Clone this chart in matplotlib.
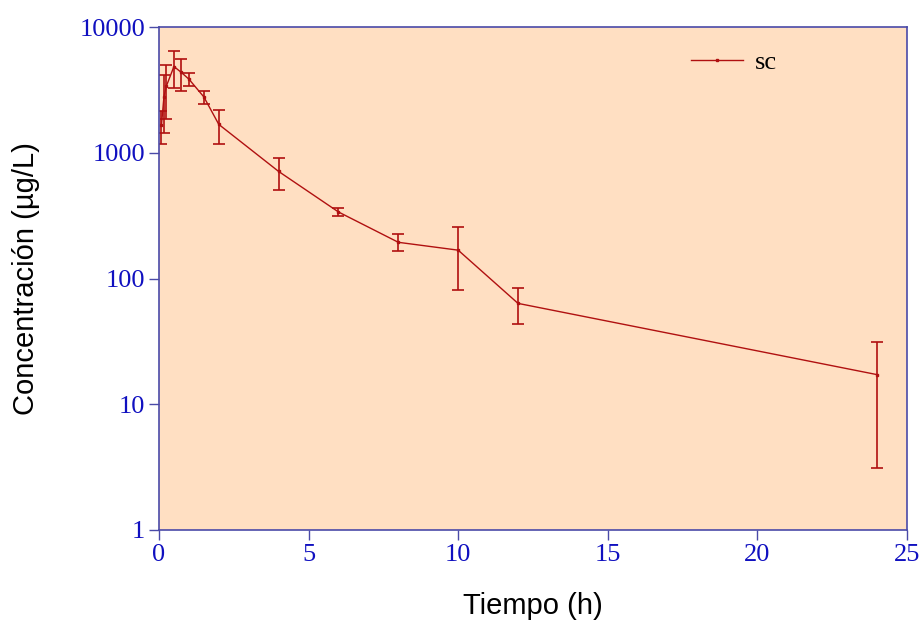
import matplotlib
matplotlib.use("Agg")
import matplotlib.pyplot as plt
from matplotlib.lines import Line2D
from matplotlib.ticker import FixedLocator, FixedFormatter, NullLocator

# Mean plasma concentration after subcutaneous dosing (mean ± SD)
tiempo = [0.083, 0.167, 0.25, 0.5, 0.75, 1, 1.5, 2, 4, 6, 8, 10, 12, 24]
conc = [1650, 2800, 3400, 4850, 4350, 3850, 2780, 1680, 710, 338, 194, 168, 63.4, 17.2]
sd = [480, 1370, 1550, 1550, 1250, 480, 320, 500, 205, 23, 30, 87, 20, 14.1]

x_ticks = [0, 5, 10, 15, 20, 25]
y_ticks = [1, 10, 100, 1000, 10000]
y_labels = ["1", "10", "100", "1000", "10000"]

line_color = "#B01010"
axis_color = "#4A4AA8"
tick_color = "#1010C0"
bg_color = "#FFDFC2"

fig = plt.figure(figsize=(9.21, 6.25), dpi=100)
ax = fig.add_axes([0.1726, 0.152, 0.8122, 0.8048])
ax.set_facecolor(bg_color)

ax.errorbar(tiempo, conc, yerr=sd, color=line_color, lw=1.0, elinewidth=1.2,
            capsize=4, capthick=1.2, marker="s", ms=2.0)

ax.set_yscale("log")
ax.set_xlim(0, 25)
ax.set_ylim(1, 10000)
ax.xaxis.set_major_locator(FixedLocator(x_ticks))
ax.yaxis.set_major_locator(FixedLocator(y_ticks))
ax.yaxis.set_major_formatter(FixedFormatter(y_labels))
ax.yaxis.set_minor_locator(NullLocator())
ax.xaxis.set_minor_locator(NullLocator())

for s in ax.spines.values():
    s.set_color(axis_color)
    s.set_linewidth(1.2)

ax.tick_params(axis="both", which="major", direction="out", length=7,
               width=1.0, color=axis_color, labelcolor=tick_color,
               labelsize=19, pad=3)
for lab in ax.get_xticklabels() + ax.get_yticklabels():
    lab.set_family(["Liberation Serif", "DejaVu Serif"])

label_font = dict(family=["Liberation Sans", "DejaVu Sans"],
                  fontsize=21, color="black")
ax.set_xlabel("Tiempo (h)", labelpad=19, **label_font)
ax.set_ylabel("Concentración (µg/L)", labelpad=28, **label_font)

handle = Line2D([], [], color=line_color, lw=1.0, marker="s", ms=2.0)
ax.legend([handle], ["sc"], loc="upper left", bbox_to_anchor=(0.679, 1.0),
          frameon=False, handlelength=2.0, handletextpad=0.45,
          prop=dict(family=["Liberation Serif", "DejaVu Serif"], size=19))

fig.savefig("out.png", dpi=100, facecolor="white")
